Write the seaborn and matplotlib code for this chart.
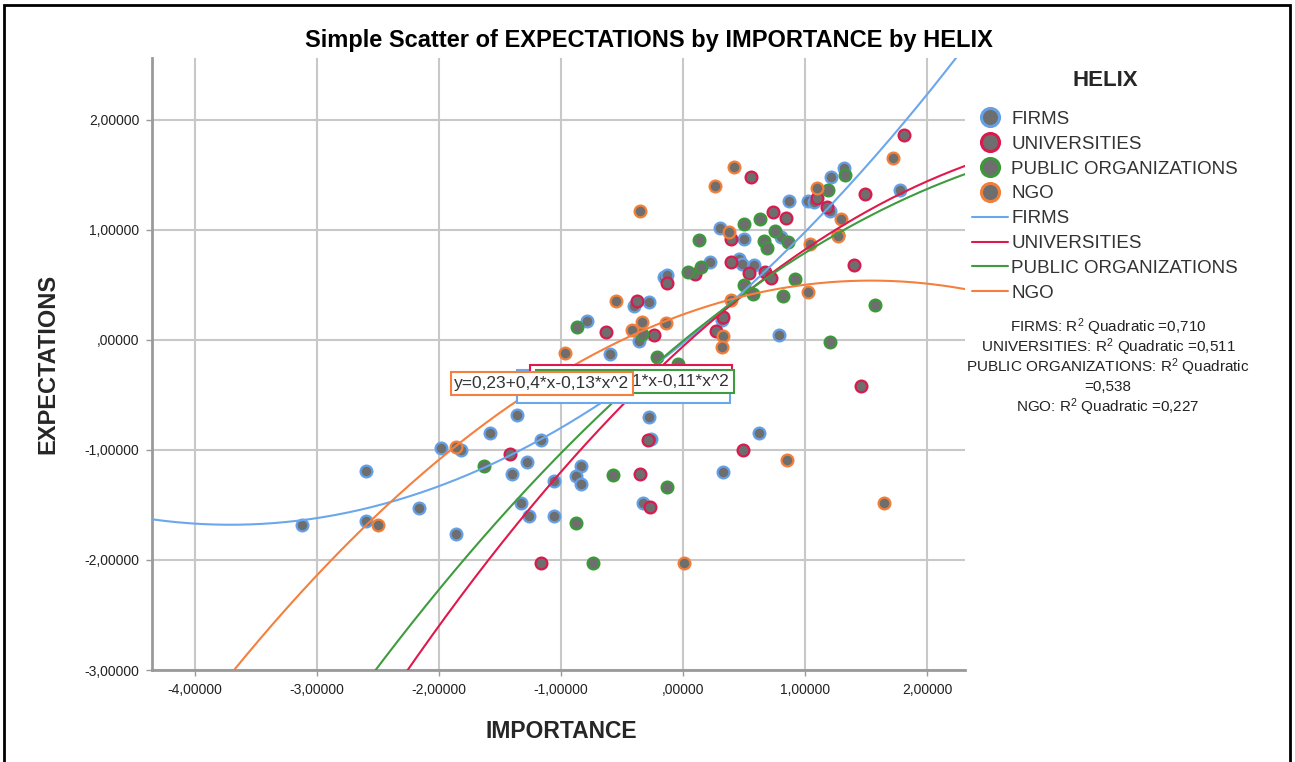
import matplotlib
matplotlib.use("Agg")
import matplotlib.pyplot as plt
import seaborn as sns
import numpy as np
from matplotlib.lines import Line2D
from matplotlib.patches import Rectangle
from matplotlib.ticker import FuncFormatter

# ---- data ----
groups = ["FIRMS", "UNIVERSITIES", "PUBLIC ORGANIZATIONS", "NGO"]

firms_x = [-3.12, -2.60, -2.60, -2.16, -1.98, -1.82, -1.86, -1.58, -1.40, -1.36, -1.28, -1.33,
           -1.26, -1.16, -1.06, -1.06, -0.28, -0.26, 0.62, 0.33, -0.84, -0.88, -0.84, -0.33,
           1.78, 1.32, 1.21, 1.02, 1.07, 1.20, 0.87, 0.79, 0.30, 0.50, 0.80, 0.22, 0.46, 0.48,
           0.58, -0.16, -0.13, -0.40, -0.28, -0.79, -0.36, 0.32, -0.60]
firms_y = [-1.68, -1.19, -1.65, -1.53, -0.98, -1.00, -1.76, -0.85, -1.22, -0.68, -1.11, -1.48,
           -1.60, -0.91, -1.28, -1.60, -0.70, -0.90, -0.85, -1.20, -1.15, -1.24, -1.31, -1.48,
           1.36, 1.56, 1.48, 1.26, 1.25, 1.17, 1.26, 0.04, 1.02, 0.92, 0.93, 0.71, 0.73, 0.69,
           0.68, 0.57, 0.59, 0.31, 0.34, 0.17, -0.01, 0.18, -0.13]

univ_x = [-1.42, -1.16, 1.46, -0.29, 0.49, -0.35, -0.27, 1.81, 1.49, 1.10, 1.18, 1.40, 0.56,
          0.74, 0.84, 0.39, 0.10, 0.39, 0.54, 0.67, 0.72, -0.13, -0.38, -0.63, -0.24, 0.33, 0.27]
univ_y = [-1.04, -2.03, -0.42, -0.91, -1.00, -1.22, -1.52, 1.86, 1.32, 1.29, 1.21, 0.68, 1.48,
          1.16, 1.11, 0.92, 0.60, 0.71, 0.61, 0.62, 0.56, 0.52, 0.35, 0.07, 0.04, 0.21, 0.08]

public_x = [-1.63, -0.57, -0.13, -0.88, -0.74, 1.33, 1.19, 1.27, 1.57, 1.20, 0.92, 0.82, 0.50,
            0.63, 0.66, 0.75, 0.86, 0.69, 0.13, 0.15, 0.04, 0.50, 0.57, -0.87, -0.34, -0.21, -0.04]
public_y = [-1.15, -1.23, -1.34, -1.66, -2.03, 1.50, 1.36, 0.95, 0.32, -0.02, 0.55, 0.40, 1.05,
            1.10, 0.90, 0.99, 0.89, 0.83, 0.91, 0.66, 0.62, 0.50, 0.42, 0.12, 0.05, -0.16, -0.22]

ngo_x = [-2.50, -1.86, 0.85, 0.01, 1.65, 1.72, 1.10, 1.29, 1.27, 1.02, 1.04, 0.42, 0.26, -0.35,
         0.38, -0.55, -0.42, -0.34, -0.14, 0.39, 0.33, 0.32, -0.97]
ngo_y = [-1.68, -0.97, -1.09, -2.03, -1.48, 1.65, 1.38, 1.10, 0.94, 0.43, 0.87, 1.57, 1.40, 1.17,
         0.98, 0.35, 0.09, 0.16, 0.15, 0.36, 0.03, -0.07, -0.12]

# quadratic fit lines  y = a + b*x + c*x^2
fit_a = [-0.03, -0.06, -0.01, 0.23]
fit_b = [0.89, 1.01, 0.91, 0.40]
fit_c = [0.12, -0.13, -0.11, -0.13]
equations = ["y=-0,03+0,89*x+0,12*x^2", "y=-0,06+1,01*x-0,13*x^2",
             "y=-0,01+0,91*x-0,11*x^2", "y=0,23+0,4*x-0,13*x^2"]
r2_lines = ["FIRMS: R$^2$ Quadratic =0,710", "UNIVERSITIES: R$^2$ Quadratic =0,511",
            "PUBLIC ORGANIZATIONS: R$^2$ Quadratic", "=0,538", "NGO: R$^2$ Quadratic =0,227"]

edge_colors = ["#64a0e6", "#d81b4f", "#3a9a3a", "#f07f3c"]
line_colors = ["#6aa7ec", "#e0184c", "#3e9b3e", "#f5803e"]
face = "#6e6e6e"

sns.set_theme(style="white")
plt.rcParams["font.family"] = ["Liberation Sans", "DejaVu Sans"]
plt.rcParams["mathtext.fontset"] = "custom"
plt.rcParams["mathtext.rm"] = "Liberation Sans"
plt.rcParams["mathtext.default"] = "regular"

fig = plt.figure(figsize=(12.95, 7.62), dpi=100)
ax = fig.add_axes([0.1174, 0.1207, 0.6278, 0.8032])
xlim = (-4.35, 2.31)
ylim = (-3.0, 2.56)

xs_all = [firms_x, univ_x, public_x, ngo_x]
ys_all = [firms_y, univ_y, public_y, ngo_y]
for gx, gy, ec in zip(xs_all, ys_all, edge_colors):
    sns.scatterplot(x=gx, y=gy, ax=ax, color=face, edgecolor=ec, linewidth=1.6,
                    s=72, zorder=3)

grid = np.linspace(xlim[0], xlim[1], 400)
for a, b, c, lc in zip(fit_a, fit_b, fit_c, line_colors):
    sns.lineplot(x=grid, y=a + b * grid + c * grid ** 2, ax=ax, color=lc, lw=1.5, zorder=4)

# equation labels stacked like SPSS: blue at back, orange in front
eq_pos = [(-0.488, -0.423), (-0.426, -0.35), (-0.393, -0.378), (-1.156, -0.395)]
eq_pad = [0.5, 0.35, 0.22, 0.22]
for (ex, ey), txt, lc, z, p in zip(eq_pos, equations, line_colors, [5, 6, 7, 8], eq_pad):
    ax.text(ex, ey, txt, ha="center", va="center", fontsize=12.5, color="#333333", zorder=z,
            bbox=dict(boxstyle=f"square,pad={p}", fc="white", ec=lc, lw=1.5))

ax.set_xlim(*xlim)
ax.set_ylim(*ylim)
ax.set_xticks([-4, -3, -2, -1, 0, 1, 2])
ax.set_yticks([-3, -2, -1, 0, 1, 2])


def spss_fmt(v, pos):
    s = f"{v:.5f}".replace(".", ",")
    if s in ("0,00000", "-0,00000"):
        s = ",00000"
    return s


ax.xaxis.set_major_formatter(FuncFormatter(spss_fmt))
ax.yaxis.set_major_formatter(FuncFormatter(spss_fmt))
ax.tick_params(axis="both", labelsize=10, labelcolor="#222222", length=4, width=1,
               color="#9a9a9a", left=True, bottom=True, pad=5)
ax.grid(True, color="#c8c8c8", lw=1.5)
ax.set_axisbelow(True)
for side in ["top", "right"]:
    ax.spines[side].set_visible(False)
for side in ["left", "bottom"]:
    ax.spines[side].set_color("#9a9a9a")
    ax.spines[side].set_linewidth(2)
ax.set_xlabel("")
ax.set_ylabel("")

fig.text(0.501, 1 - 40 / 762, "Simple Scatter of EXPECTATIONS by IMPORTANCE by HELIX",
         ha="center", va="center", fontsize=17, fontweight="bold", color="black")
fig.text(561 / 1295, 1 - 731 / 762, "IMPORTANCE", ha="center", va="center",
         fontsize=16.5, fontweight="bold")
fig.text(48 / 1295, 1 - 364 / 762, "EXPECTATIONS", ha="center", va="center",
         fontsize=17, fontweight="bold", rotation=90)

# legend
fig.text(1105 / 1295, 1 - 80 / 762, "HELIX", ha="center", va="center",
         fontsize=16, fontweight="bold")
handles = [Line2D([], [], marker="o", ls="", markerfacecolor=face, markeredgecolor=ec,
                  markersize=13, markeredgewidth=2.2) for ec in edge_colors]
handles += [Line2D([], [], color=lc, lw=1.5) for lc in line_colors]
leg = fig.legend(handles, groups + groups, loc="upper left",
                 bbox_to_anchor=(955 / 1295, 1 - 94 / 762), frameon=False,
                 fontsize=13.5, handlelength=1.9, handletextpad=0.2, labelspacing=0.41,
                 borderpad=0.4)
for t in leg.get_texts():
    t.set_color("#333333")

for i, line in enumerate(r2_lines):
    fig.text(1108 / 1295, 1 - (327 + 20 * i) / 762, line, ha="center", va="center",
             fontsize=11, color="#222222")

fig.patches.append(Rectangle((4 / 1295, -0.02), 1286 / 1295, 1.02 - 5 / 762,
                             transform=fig.transFigure, fill=False, ec="black", lw=2))

fig.savefig("out.png", dpi=100)
